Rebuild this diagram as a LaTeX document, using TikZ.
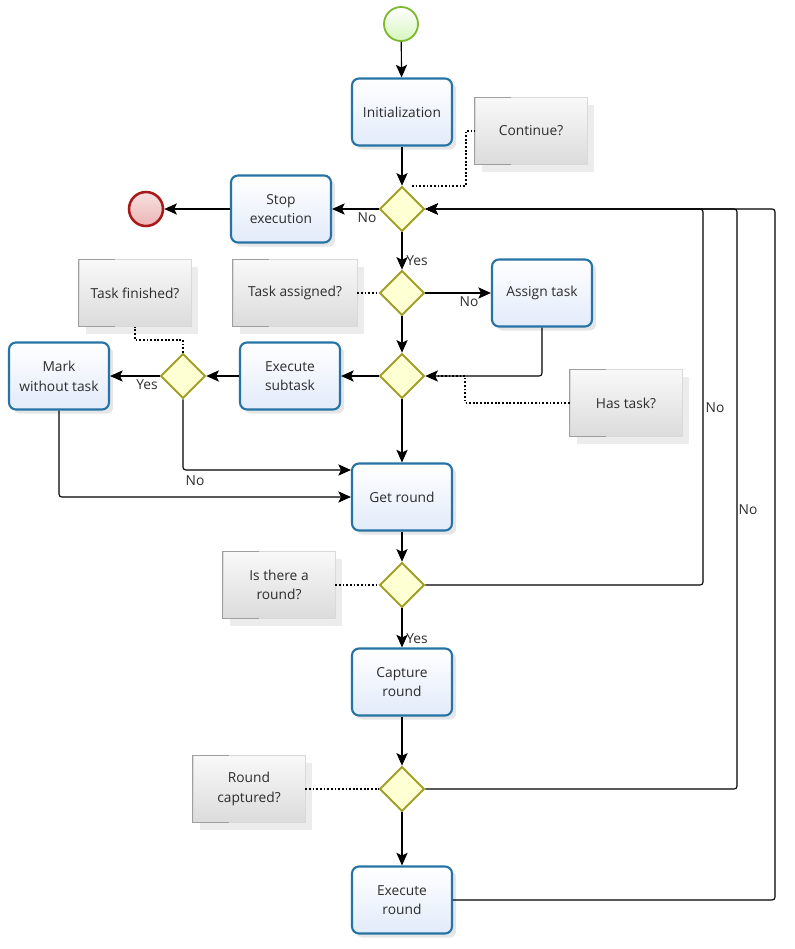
\documentclass[tikz,border=0pt]{standalone}
\usepackage{fontspec}
\setmainfont{Open Sans}
\usepackage{xcolor}
\definecolor{bpblue}{RGB}{38,115,165}
\definecolor{bpfill}{RGB}{226,235,250}
\definecolor{bpolive}{RGB}{160,160,40}
\definecolor{bpyellow}{RGB}{255,255,212}
\definecolor{bpgreen}{RGB}{125,185,45}
\definecolor{bplgreen}{RGB}{215,245,190}
\definecolor{bpred}{RGB}{170,25,25}
\definecolor{bppink}{RGB}{236,180,180}
\definecolor{bptext}{RGB}{45,45,45}
\usetikzlibrary{arrows.meta,shapes.geometric,shadows,calc}

\begin{document}
\begin{tikzpicture}[x=0.025cm, y=-0.025cm,
  font=\fontsize{9.8}{14}\selectfont, text=bptext,
  task/.style={draw=bpblue, line width=1.5pt, rounded corners=5pt, top color=white, bottom color=bpfill,
    minimum width=2.5cm, minimum height=1.675cm, align=center,
    drop shadow={shadow xshift=3pt, shadow yshift=-3pt, opacity=.2}},
  gate/.style={diamond, draw=bpolive, line width=1.3pt, fill=bpyellow, minimum width=1.12cm, minimum height=1.12cm, inner sep=0pt},
  note/.style={draw=gray!30, thin, top color=gray!5, bottom color=gray!28, minimum width=2.8cm, minimum height=1.675cm, align=center,
    drop shadow={shadow xshift=5pt, shadow yshift=-5pt, opacity=.15}},
  startev/.style={circle, draw=bpgreen, line width=1.3pt, top color=white, bottom color=bplgreen, minimum size=0.85cm, inner sep=0pt},
  endev/.style={circle, draw=bpred, line width=1.8pt, top color=white!60!bppink, bottom color=bppink, minimum size=0.85cm, inner sep=0pt},
  flow/.style={-{Stealth[length=9pt, width=8pt, inset=2pt]}, line width=0.8pt, rounded corners=2pt},
  assoc/.style={line width=1.3pt, dash pattern=on 1.3pt off 1.3pt},
  lbl/.style={inner sep=1pt}]
  \useasboundingbox (0,0) rectangle (795,949);

  % main column
  \node[startev] (st) at (401,24) {};
  \node[task] (init) at (402,112) {Initialization};
  \node[gate] (d1) at (402,209) {};
  \node[task] (stop) at (281,209) {Stop\\execution};
  \node[endev] (en) at (146,209) {};
  \node[gate] (d2) at (402,293) {};
  \node[task] (assign) at (542,293) {Assign task};
  \node[gate] (d3) at (402,376) {};
  \node[task] (exsub) at (290,376) {Execute\\subtask};
  \node[gate] (d4) at (183,376) {};
  \node[task] (mark) at (59,376) {Mark\\without task};
  \node[task] (getr) at (402,497) {Get round};
  \node[gate] (d5) at (402,585) {};
  \node[task] (capr) at (402,682) {Capture\\round};
  \node[gate] (d6) at (402,789) {};
  \node[task] (exr) at (402,900) {Execute\\round};

  % annotations
  \node[note] (cont) at (531,131) {Continue?};
  \node[note, minimum width=3.1cm] (tass) at (295,293) {Task assigned?};
  \node[note] (hast) at (626,403) {Has task?};
  \node[note] (tfin) at (135,293) {Task finished?};
  \node[note] (isr) at (279,585) {Is there a\\round?};
  \node[note] (rcap) at (249,789) {Round\\captured?};
  \foreach \n in {cont,tass,hast,tfin,isr,rcap}
    \draw[gray!75, line width=0.6pt] ([xshift=0.9cm]\n.north west) -- (\n.north west)
      -- (\n.south west) -- ([xshift=0.9cm]\n.south west);

  % labels
  \node[lbl] (no1) at (367,218) {No};
  \node[lbl] (yes1) at (417,261) {Yes};
  \node[lbl] (no2) at (469,302) {No};
  \node[lbl] (yes2) at (147,385) {Yes};
  \node[lbl] (no3) at (195,481) {No};
  \node[lbl] (yes3) at (417,639) {Yes};
  \node[lbl] (no4) at (715,408) {No};
  \node[lbl] (no5) at (748,510) {No};

  % return lines
  \coordinate (ret1) at (703,209);
  \coordinate (ret2) at (737,209);
  \coordinate (ret3) at (775,209);

  % sequence flows
  \draw[flow] (st) -- (init);
  \draw[flow] (init) -- (d1);
  \draw[flow] (d1) -- (stop);
  \draw[flow] (stop) -- (en);
  \draw[flow] (d1) -- (d2);
  \draw[flow] (d2) -- (assign);
  \draw[flow] (d2) -- (d3);
  \draw[flow] (assign.south) |- (d3.east);
  \draw[flow] (d3) -- (exsub);
  \draw[flow] (exsub) -- (d4);
  \draw[flow] (d4) -- (mark);
  \draw[flow] (d3) -- (getr);
  \draw[flow] (d4.south) |- ([yshift=0.675cm]getr.west);
  \draw[flow] (mark.south) |- (getr.west);
  \draw[flow] (getr) -- (d5);
  \draw[flow] (d5) -- (capr);
  \draw[flow] (capr) -- (d6);
  \draw[flow] (d6) -- (exr);
  \draw[flow] (d5.east) -| (ret1) -- (d1.east);
  \draw[flow] (d6.east) -| (ret2) -- (d1.east);
  \draw[flow] (exr.east) -| (ret3) -- (d1.east);

  % associations
  \draw[assoc] ([xshift=0.25cm]d1.north) -| ([xshift=-0.225cm]cont.west) -- (cont.west);
  \draw[assoc] (tass.east) -- (d2.west);
  \draw[assoc] (hast.west) -| ([xshift=1cm]d3.east) -- (d3.east);
  \draw[assoc] (d4.north) |- ([yshift=-0.325cm]tfin.south) -- (tfin.south);
  \draw[assoc] (isr.east) -- (d5.west);
  \draw[assoc] (rcap.east) -- (d6.west);
\end{tikzpicture}
\end{document}
